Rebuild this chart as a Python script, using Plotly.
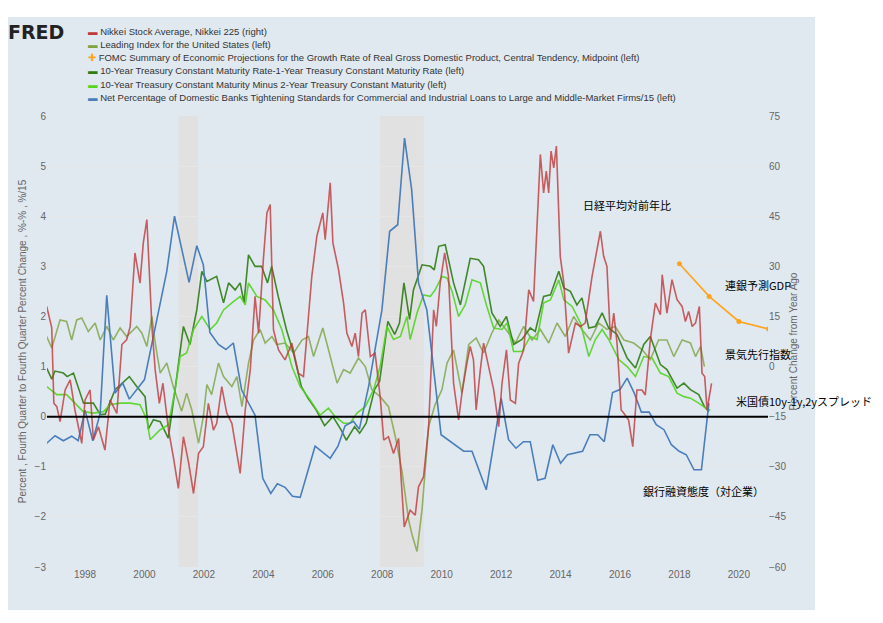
import plotly.graph_objects as go

# Nikkei 225, % change from year ago (right axis)
nikkei_x = [1996.71, 1996.88, 1996.95, 1997.05, 1997.16, 1997.33, 1997.5, 1997.66, 1997.89, 1998.0, 1998.17, 1998.28,
            1998.45, 1998.67, 1998.84, 1999.07, 1999.24, 1999.4, 1999.52, 1999.68, 1999.85, 1999.96, 2000.08, 2000.25,
            2000.36, 2000.5, 2000.62, 2000.81, 2000.97, 2001.14, 2001.31, 2001.48, 2001.65, 2001.82, 2001.98, 2002.15,
            2002.32, 2002.43, 2002.6, 2002.77, 2002.94, 2003.22, 2003.39, 2003.56, 2003.72, 2003.84, 2004.0, 2004.12,
            2004.23, 2004.34, 2004.51, 2004.73, 2004.96, 2005.18, 2005.35, 2005.52, 2005.63, 2005.8, 2006.0, 2006.08,
            2006.25, 2006.34, 2006.53, 2006.7, 2006.81, 2006.98, 2007.09, 2007.2, 2007.32, 2007.43, 2007.6, 2007.76,
            2007.93, 2008.05, 2008.21, 2008.38, 2008.55, 2008.74, 2008.94, 2009.11, 2009.22, 2009.39, 2009.56, 2009.73,
            2009.82, 2009.95, 2010.1, 2010.23, 2010.4, 2010.57, 2010.68, 2010.85, 2010.96, 2011.07, 2011.16, 2011.3,
            2011.41, 2011.58, 2011.75, 2011.92, 2012.03, 2012.18, 2012.31, 2012.48, 2012.59, 2012.76, 2012.93, 2013.09,
            2013.21, 2013.32, 2013.43, 2013.52, 2013.6, 2013.68, 2013.77, 2013.86, 2013.99, 2014.11, 2014.27, 2014.39,
            2014.5, 2014.67, 2014.83, 2015.06, 2015.23, 2015.34, 2015.45, 2015.56, 2015.68, 2015.79, 2015.9, 2016.04,
            2016.13, 2016.29, 2016.43, 2016.57, 2016.74, 2016.85, 2017.02, 2017.19, 2017.36, 2017.42, 2017.58, 2017.75,
            2017.92, 2018.09, 2018.2, 2018.31, 2018.43, 2018.54, 2018.67, 2018.76, 2018.85, 2018.93, 2019.08]
nikkei_y = [18, 11.6, -11, -12, -16.5, -7, -4, -13, -23, -10, -7, -22,
            -18, -25, -10, -14, 6.6, 8, 12, 34, 25, 37, 44, 12,
            -1, -11, -5, -19, -27, -36.5, -21, -28.5, -38, -26, -24, -11,
            -19, -17, -6, -14, -17, -32, -13, -1, 21, 10, 32, 46,
            48.5, 11, 5, 2, 7, -2, -3, 15, 27, 39, 46, 38,
            55, 37, 29, 19, 10, 6, 10, 3, 16, 17, 3, 4,
            -9, -22, -21, -26, -21.5, -48, -43, -44.5, -36, -33, -18, 17,
            12, 25, 34, 27, -5, -16, -8, 1, 6, 2, -13, -1,
            7, 0, -7, -18, -5, 5, -10, -11, 1, 5, 23, 19.5,
            42, 63.5, 52, 58.5, 52, 64.5, 59.5, 66, 33, 25, 4, 9,
            13, 12, 13, 27, 35, 40.5, 33, 30, 8, 16, 7, -13,
            -14, -16, -24, -7, -7, -8.5, 8, 19, 15.5, 27.5, 16, 26,
            20, 18, 13.5, 16.5, 12, 13, 18, -2, -3, -13, -5]

# Leading Index for the United States (left)
lead_x = [1996.71, 1996.88, 1997.16, 1997.38, 1997.55, 1997.72, 1997.89, 1998.11, 1998.34, 1998.51, 1998.73, 1998.95,
          1999.18, 1999.4, 1999.74, 1999.91, 2000.08, 2000.25, 2000.36, 2000.53, 2000.75, 2000.97, 2001.25, 2001.42,
          2001.59, 2001.82, 2001.98, 2002.1, 2002.26, 2002.49, 2002.66, 2002.94, 2003.11, 2003.28, 2003.5, 2003.67,
          2003.89, 2004.06, 2004.29, 2004.45, 2004.73, 2005.02, 2005.3, 2005.52, 2005.69, 2006.0, 2006.19, 2006.48,
          2006.7, 2006.92, 2007.2, 2007.43, 2007.65, 2007.93, 2008.21, 2008.44, 2008.66, 2008.89, 2009.0, 2009.17,
          2009.34, 2009.56, 2009.78, 2010.01, 2010.18, 2010.4, 2010.68, 2010.91, 2011.16, 2011.41, 2011.69, 2011.92,
          2012.25, 2012.48, 2012.76, 2013.04, 2013.32, 2013.6, 2013.88, 2014.16, 2014.44, 2014.72, 2015.0, 2015.28,
          2015.56, 2015.84, 2016.13, 2016.46, 2016.74, 2017.02, 2017.3, 2017.58, 2017.81, 2018.09, 2018.37, 2018.54,
          2018.71, 2018.84]
lead_y = [1.6, 1.37, 1.93, 1.9, 1.53, 1.93, 1.97, 1.7, 1.87, 1.53, 1.8, 1.53,
          1.77, 1.6, 1.8, 1.67, 1.4, 2.0, 1.47, 0.87, 1.07, 0.6, 0.11, 0.47,
          0.14, -0.53, 0.0, 0.64, 0.44, 1.07, 0.8, 0.6, 0.8, 0.2, 1.07, 1.53,
          1.74, 1.47, 1.6, 1.44, 1.47, 1.27, 1.53, 1.6, 1.2, 1.77, 1.34, 0.67,
          0.94, 0.87, 1.17, 1.0, 0.54, 0.4, 0.2, -0.4, -1.07, -2.07, -2.35, -2.69,
          -1.85, -0.2, 0.24, 0.54, 1.07, 1.33, 0.47, 1.44, 1.57, 1.27, 1.67, 1.93,
          1.67, 1.47, 1.8, 1.53, 1.74, 1.47, 1.87, 1.6, 2.0, 1.74, 1.53, 1.87,
          1.74, 1.8, 1.53, 1.47, 1.34, 1.14, 1.53, 1.53, 1.2, 1.53, 1.47, 1.2,
          1.4, 1.0]

# FOMC projection, real GDP growth midpoint (left)
fomc_x = [2018.0, 2019.0, 2020.0, 2021.0]
fomc_y = [3.05, 2.4, 1.9, 1.75]

# 10y - 1y Treasury spread (left)
t101_x = [1996.71, 1996.88, 1996.99, 1997.27, 1997.4, 1997.61, 1997.95, 1998.28, 1998.51, 1998.68, 1999.01, 1999.49,
          1999.74, 2000.02, 2000.13, 2000.3, 2000.53, 2000.8, 2001.03, 2001.31, 2001.53, 2001.76, 2001.93, 2002.1,
          2002.43, 2002.66, 2002.83, 2003.05, 2003.22, 2003.35, 2003.5, 2003.72, 2003.94, 2004.14, 2004.28, 2004.5,
          2004.78, 2005.0, 2005.28, 2005.5, 2005.78, 2006.06, 2006.34, 2006.62, 2006.79, 2007.07, 2007.24, 2007.46,
          2007.74, 2007.91, 2008.19, 2008.42, 2008.58, 2008.73, 2008.92, 2009.05, 2009.34, 2009.62, 2009.75, 2009.9,
          2010.12, 2010.4, 2010.63, 2010.96, 2011.24, 2011.41, 2011.69, 2011.97, 2012.18, 2012.42, 2012.7, 2012.98,
          2013.15, 2013.43, 2013.66, 2013.94, 2014.11, 2014.33, 2014.55, 2014.72, 2014.95, 2015.17, 2015.4, 2015.62,
          2015.9, 2016.24, 2016.52, 2016.8, 2017.02, 2017.36, 2017.58, 2017.92, 2018.15, 2018.37, 2018.65, 2018.84,
          2018.99]
t101_y = [0.97, 0.75, 0.91, 0.87, 0.8, 0.87, 0.27, 0.27, 0.04, 0.05, 0.54, 0.8,
          0.6, 0.4, -0.25, -0.06, -0.1, -0.43, 0.54, 1.8, 1.44, 2.13, 2.9, 2.7,
          2.8, 2.27, 2.67, 2.53, 2.67, 2.27, 3.23, 3.0, 3.0, 2.67, 3.0, 2.4,
          1.73, 1.3, 0.6, 0.37, 0.13, -0.18, 0.0, -0.27, -0.47, -0.2, -0.33, -0.13,
          0.54, 0.7, 1.9, 1.64, 1.87, 2.67, 1.94, 2.53, 3.03, 3.0, 2.93, 3.4,
          3.43, 2.67, 2.23, 3.16, 3.13, 3.0, 2.07, 1.8, 2.0, 1.44, 1.54, 1.77,
          1.7, 2.4, 2.43, 2.9, 2.57, 2.5, 2.23, 2.37, 1.77, 1.8, 2.07, 1.77,
          1.64, 1.17, 0.97, 1.44, 1.6, 1.04, 0.94, 0.57, 0.67, 0.54, 0.44, 0.2,
          0.1]

# 10y - 2y Treasury spread (left)
t102_x = [1996.71, 1997.05, 1997.38, 1997.61, 1997.94, 1998.28, 1998.62, 1998.84, 1999.18, 1999.52, 1999.85, 2000.08,
          2000.19, 2000.53, 2000.81, 2001.03, 2001.2, 2001.42, 2001.65, 2001.93, 2002.21, 2002.43, 2002.66, 2002.94,
          2003.22, 2003.39, 2003.5, 2003.78, 2004.06, 2004.34, 2004.62, 2004.96, 2005.24, 2005.58, 2005.91, 2006.19,
          2006.42, 2006.7, 2006.92, 2007.15, 2007.43, 2007.71, 2007.93, 2008.16, 2008.38, 2008.61, 2008.83, 2008.94,
          2009.17, 2009.39, 2009.62, 2009.78, 2010.01, 2010.18, 2010.35, 2010.57, 2010.79, 2011.02, 2011.3, 2011.52,
          2011.75, 2012.03, 2012.2, 2012.42, 2012.7, 2012.98, 2013.21, 2013.43, 2013.66, 2013.94, 2014.11, 2014.39,
          2014.67, 2014.95, 2015.17, 2015.4, 2015.62, 2015.96, 2016.24, 2016.52, 2016.8, 2017.08, 2017.36, 2017.64,
          2017.92, 2018.15, 2018.37, 2018.65, 2018.88, 2019.04]
t102_y = [0.6, 0.44, 0.44, 0.3, 0.1, 0.07, 0.1, 0.24, 0.27, 0.27, 0.24, -0.06,
          -0.46, -0.26, -0.16, 0.54, 1.2, 1.27, 1.74, 2.0, 1.74, 1.87, 2.13, 2.27,
          2.4, 2.23, 2.67, 2.4, 2.33, 2.13, 1.74, 1.0, 0.6, 0.33, 0.03, 0.17,
          0.0, -0.13, -0.13, 0.07, 0.2, 0.54, 1.0, 1.8, 1.54, 1.6, 2.0, 1.54,
          2.07, 2.43, 2.4, 2.53, 2.8, 2.77, 2.5, 2.0, 2.23, 2.73, 2.67, 2.2,
          1.77, 1.74, 1.87, 1.3, 1.3, 1.6, 1.54, 2.27, 2.33, 2.73, 2.33, 2.2,
          1.87, 1.2, 1.54, 1.74, 1.54, 1.14, 1.0, 0.8, 1.2, 1.17, 0.87, 0.8,
          0.47, 0.4, 0.37, 0.27, 0.17, 0.13]

# Net % of banks tightening C&I standards / 15 (left)
bank_x = [1996.71, 1996.99, 1997.27, 1997.55, 1997.77, 1998.0, 1998.26, 1998.51, 1998.73, 1999.01, 1999.27, 1999.49,
          2000.0, 2000.75, 2001.01, 2001.5, 2001.76, 2001.98, 2002.2, 2002.49, 2002.74, 2002.99, 2003.27, 2003.72,
          2003.98, 2004.25, 2004.47, 2004.73, 2004.98, 2005.24, 2005.74, 2006.25, 2006.51, 2006.75, 2007.03, 2007.23,
          2007.54, 2007.99, 2008.25, 2008.52, 2008.75, 2008.99, 2009.22, 2009.5, 2009.98, 2010.74, 2011.02, 2011.5,
          2012.0, 2012.25, 2012.5, 2012.75, 2012.98, 2013.23, 2013.48, 2013.74, 2014.0, 2014.23, 2014.74, 2014.99,
          2015.25, 2015.47, 2015.75, 2016.0, 2016.24, 2016.48, 2016.72, 2016.98, 2017.22, 2017.48, 2017.73, 2017.99,
          2018.23, 2018.49, 2018.74, 2018.99]
bank_y = [-0.53, -0.38, -0.48, -0.39, -0.48, 0.13, -0.48, 0.07, 2.42, 0.47, 0.67, 0.35,
          0.74, 2.9, 4.0, 2.68, 3.41, 3.03, 1.68, 1.44, 1.34, 1.47, 0.53, 0.03,
          -1.23, -1.53, -1.34, -1.41, -1.59, -1.61, -0.59, -0.83, -0.59, -0.18, -0.09, -0.25,
          0.6, 2.13, 3.7, 3.83, 5.56, 4.53, 2.67, 2.13, -0.36, -0.69, -0.69, -1.46,
          0.37, -0.46, -0.63, -0.5, -0.5, -1.27, -1.23, -0.56, -0.93, -0.76, -0.69, -0.36,
          -0.36, -0.5, 0.48, 0.54, 0.77, 0.47, 0.09, 0.09, -0.16, -0.26, -0.56, -0.69,
          -0.76, -1.06, -1.06, 0.27]

recessions = [(2001.15, 2001.8), (2007.93, 2009.4)]

labels = [
    ("日経平均対前年比", 2016.25, 4.23, "center"),
    ("連銀予測GDP", 2020.66, 2.63, "center"),
    ("景気先行指数", 2020.66, 1.26, "center"),
    ("米国債10y-1y,2yスプレッド", 2019.82, 0.32, "left"),
    ("銀行融資態度（対企業）", 2018.8, -1.48, "center"),
]

series = [
    ("Nikkei Stock Average, Nikkei 225 (right)", nikkei_x, nikkei_y, "#c0393b", "y2", 0.8),
    ("Leading Index for the United States (left)", lead_x, lead_y, "#7da443", "y", 0.8),
    ("FOMC Summary of Economic Projections for the Growth Rate of Real Gross Domestic Product, Central Tendency, Midpoint (left)",
     fomc_x, fomc_y, "#ffa31a", "y", 1.0),
    ("10-Year Treasury Constant Maturity Rate-1-Year Treasury Constant Maturity Rate (left)", t101_x, t101_y, "#2e7d14", "y", 0.9),
    ("10-Year Treasury Constant Maturity Minus 2-Year Treasury Constant Maturity (left)", t102_x, t102_y, "#55d424", "y", 0.9),
    ("Net Percentage of Domestic Banks Tightening Standards for Commercial and Industrial Loans to Large and Middle-Market Firms/15 (left)",
     bank_x, bank_y, "#4a7ebb", "y", 1.0),
]

fig = go.Figure()
for name, xs, ys, col, ax, op in series:
    mode = "lines+markers" if name.startswith("FOMC") else "lines"
    fig.add_trace(go.Scatter(x=xs, y=ys, yaxis=ax, mode=mode, opacity=op, marker=dict(size=5),
                             line=dict(color=col, width=1.6), name=name, showlegend=False))

# plot area in pixels (page has an 8px body margin)
L, T, W, H = 47, 116, 721, 451
px = lambda x: (x - L) / W
py = lambda y: (L + 520 - y) / H  # 567 = plot bottom

shapes = [dict(type="rect", xref="paper", yref="paper", x0=px(5), x1=px(815), y0=py(610), y1=py(17),
               fillcolor="#e1e9f0", line_width=0, layer="below")]
for a, b in recessions:
    shapes.append(dict(type="rect", xref="x", yref="paper", x0=a, x1=b, y0=0, y1=1,
                       fillcolor="#e1e1e1", line_width=0, layer="below"))
shapes.append(dict(type="line", xref="paper", yref="y", x0=0, x1=1, y0=0, y1=0,
                   line=dict(color="black", width=2)))

annotations = [dict(text=t, x=x, y=y, xref="x", yref="y", showarrow=False, xanchor=anc,
                    font=dict(size=11, color="black", family="Noto Sans CJK JP")) for t, x, y, anc in labels]
annotations.append(dict(text="<b>FRED</b>", xref="paper", yref="paper", x=px(6), y=py(32), xanchor="left",
                        yanchor="middle", showarrow=False, font=dict(size=19, color="#222", family="DejaVu Sans")))
# legend built from annotations for tight row spacing
for i, (name, _, _, col, _, _) in enumerate(series):
    mark = "✚" if name.startswith("FOMC") else "▬"
    annotations.append(dict(text=f"<span style='color:{col}'>{mark}</span> {name}", xref="paper", yref="paper",
                            x=px(86), y=py(31 + 13.3 * i), xanchor="left", yanchor="middle", showarrow=False,
                            font=dict(size=9.5, color="#333", family="Liberation Sans")))

axfont = dict(size=10, color="#666", family="Liberation Sans")
fig.update_layout(
    width=883, height=623,
    margin=dict(l=39, r=123, t=108, b=64, autoexpand=False),
    paper_bgcolor="white", plot_bgcolor="white",
    shapes=shapes, annotations=annotations,
    xaxis=dict(range=[1996.72, 2020.98], tickvals=list(range(1998, 2021, 2)),
               showgrid=False, zeroline=False, tickfont=axfont, ticks="", showline=False),
    yaxis=dict(range=[-3, 6], dtick=1, gridcolor="#e6e6e6", zeroline=False, tickfont=axfont,
               title=dict(text="Percent , Fourth Quarter to Fourth Quarter Percent Change , %-% , %/15",
                          font=axfont, standoff=6)),
    yaxis2=dict(range=[-60, 75], dtick=15, overlaying="y", side="right", showgrid=False, zeroline=False,
                tickfont=axfont, title=dict(text="Percent Change from Year Ago", font=axfont, standoff=4)),
)
fig.write_html("out.html")
